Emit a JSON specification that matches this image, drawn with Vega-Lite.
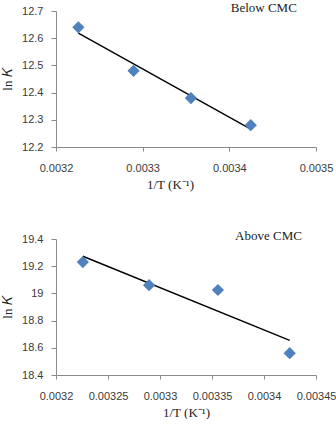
{
  "$schema": "https://vega.github.io/schema/vega-lite/v6.json",
  "background": "white",
  "padding": {"left": 1, "top": 2, "right": 0, "bottom": 0},
  "spacing": 39,
  "config": {
    "view": {"stroke": null},
    "axis": {
      "grid": false,
      "domainColor": "#8a8a8a",
      "tickColor": "#8a8a8a",
      "labelFont": "Liberation Sans",
      "labelFontSize": 11,
      "labelColor": "#3a3a3a",
      "labelOverlap": false,
      "labelFlush": false,
      "labelBound": false,
      "titleFont": "Liberation Serif",
      "titleFontSize": 13,
      "titleFontWeight": "normal",
      "titleColor": "#222222"
    },
    "axisX": {"tickSize": 4, "labelPadding": 11, "titlePadding": 5, "format": "~g"},
    "axisY": {"tickSize": 5, "labelPadding": 8, "titlePadding": 7, "format": "~g"},
    "title": {
      "font": "Liberation Serif",
      "fontSize": 13,
      "fontWeight": "normal",
      "color": "#222222",
      "anchor": "end",
      "offset": -10
    }
  },
  "datasets": {
    "below": [
      {"invT": 0.0032258, "lnK": 12.64},
      {"invT": 0.0032895, "lnK": 12.48},
      {"invT": 0.0033557, "lnK": 12.38},
      {"invT": 0.0034247, "lnK": 12.28}
    ],
    "belowFit": [
      {"invT": 0.0032258, "lnK": 12.619},
      {"invT": 0.0034247, "lnK": 12.266}
    ],
    "above": [
      {"invT": 0.0032258, "lnK": 19.23},
      {"invT": 0.0032895, "lnK": 19.06},
      {"invT": 0.0033557, "lnK": 19.025},
      {"invT": 0.0034247, "lnK": 18.56}
    ],
    "aboveFit": [
      {"invT": 0.0032258, "lnK": 19.273},
      {"invT": 0.0034247, "lnK": 18.654}
    ]
  },
  "vconcat": [
    {
      "title": {"text": "Below CMC", "dx": -36},
      "width": 260,
      "height": 136,
      "encoding": {
        "x": {
          "field": "invT", "type": "quantitative",
          "scale": {"domain": [0.0032, 0.0035], "nice": false, "zero": false},
          "axis": {"title": "1/T (K⁻¹)", "values": [0.0032, 0.0033, 0.0034, 0.0035], "titleX": 114}
        },
        "y": {
          "field": "lnK", "type": "quantitative",
          "scale": {"domain": [12.2, 12.7], "nice": false, "zero": false},
          "axis": {"title": "ln 𝐾", "values": [12.2, 12.3, 12.4, 12.5, 12.6, 12.7]}
        }
      },
      "layer": [
        {
          "data": {"name": "belowFit"},
          "mark": {"type": "line", "color": "black", "strokeWidth": 1.4}
        },
        {
          "data": {"name": "below"},
          "mark": {"type": "point", "shape": "diamond", "filled": true, "color": "#4F81BD", "opacity": 1, "size": 150}
        }
      ]
    },
    {
      "title": {"text": "Above CMC", "dx": -34},
      "width": 260,
      "height": 136,
      "encoding": {
        "x": {
          "field": "invT", "type": "quantitative",
          "scale": {"domain": [0.0032, 0.00345], "nice": false, "zero": false},
          "axis": {"title": "1/T (K⁻¹)", "values": [0.0032, 0.00325, 0.0033, 0.00335, 0.0034, 0.00345]}
        },
        "y": {
          "field": "lnK", "type": "quantitative",
          "scale": {"domain": [18.4, 19.4], "nice": false, "zero": false},
          "axis": {"title": "ln 𝐾", "values": [18.4, 18.6, 18.8, 19, 19.2, 19.4]}
        }
      },
      "layer": [
        {
          "data": {"name": "aboveFit"},
          "mark": {"type": "line", "color": "black", "strokeWidth": 1.4}
        },
        {
          "data": {"name": "above"},
          "mark": {"type": "point", "shape": "diamond", "filled": true, "color": "#4F81BD", "opacity": 1, "size": 150}
        }
      ]
    }
  ]
}
